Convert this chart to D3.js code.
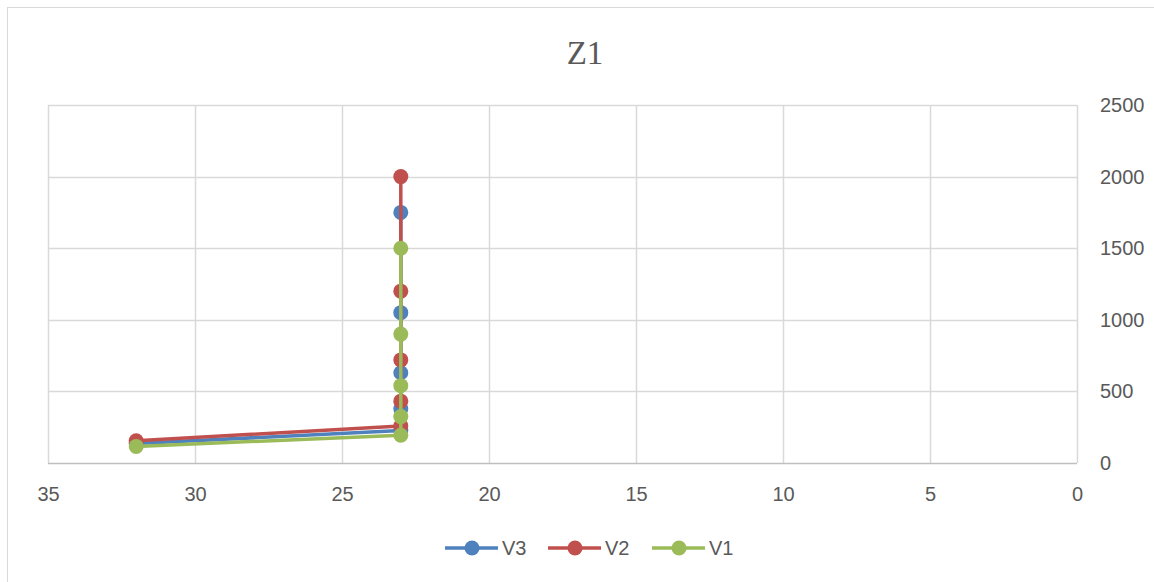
<!DOCTYPE html>
<html><head><meta charset="utf-8">
<script src="https://cdn.jsdelivr.net/npm/d3@7"></script>
<style>body{margin:0;background:#fff}</style>
</head><body>
<svg id="c" width="1154" height="582"></svg>
<script>
const title = "Z1";
const seriesNames = ["V3", "V2", "V1"];
const colors = ["#4f81bd", "#c0504d", "#9bbb59"];
const xV3 = [32, 23, 23, 23, 23, 23];
const yV3 = [136, 227, 378, 630, 1050, 1750];
const xV2 = [32, 23, 23, 23, 23, 23];
const yV2 = [155, 259, 432, 720, 1200, 2000];
const xV1 = [32, 23, 23, 23, 23, 23];
const yV1 = [116, 194, 324, 540, 900, 1500];
const xTicks = [35, 30, 25, 20, 15, 10, 5, 0];
const yTicks = [0, 500, 1000, 1500, 2000, 2500];

const series = [
  {name: seriesNames[0], color: colors[0], pts: xV3.map((x, i) => [x, yV3[i]])},
  {name: seriesNames[1], color: colors[1], pts: xV2.map((x, i) => [x, yV2[i]])},
  {name: seriesNames[2], color: colors[2], pts: xV1.map((x, i) => [x, yV1[i]])}
];

const svg = d3.select("#c");
const font = "'Liberation Sans', Arial, sans-serif";
const textCol = "#595959";

svg.append("rect").attr("x", 7.5).attr("y", 7.5).attr("width", 1160).attr("height", 600)
  .attr("fill", "#fff").attr("stroke", "#d9d9d9").attr("stroke-width", 1);

const L = 48, R = 1077, T = 105, B = 463;
const x = d3.scaleLinear().domain([35, 0]).range([L, R]);
const y = d3.scaleLinear().domain([0, 2500]).range([B, T]);

svg.append("text").attr("x", 585).attr("y", 64).attr("text-anchor", "middle")
  .attr("font-family", "'Liberation Serif', 'Times New Roman', serif").attr("font-size", 33)
  .attr("fill", textCol).text(title);

// grid
const g = svg.append("g");
g.selectAll(".vg").data(xTicks).join("line")
  .attr("x1", d => Math.round(x(d)) + 0.5).attr("x2", d => Math.round(x(d)) + 0.5)
  .attr("y1", T).attr("y2", B).attr("stroke", "#d9d9d9").attr("stroke-width", 1.5);
g.selectAll(".hg").data(yTicks.filter(d => d > 0)).join("line")
  .attr("x1", L).attr("x2", R)
  .attr("y1", d => Math.round(y(d)) + 0.5).attr("y2", d => Math.round(y(d)) + 0.5)
  .attr("stroke", "#d9d9d9").attr("stroke-width", 1.5);
g.append("line").attr("x1", L).attr("x2", R).attr("y1", B + 0.5).attr("y2", B + 0.5)
  .attr("stroke", "#bfbfbf").attr("stroke-width", 1.5);

// axes
const xAxis = d3.axisBottom(x).tickValues(xTicks).tickSize(0).tickPadding(24);
const xa = svg.append("g").attr("transform", `translate(0,${B})`).call(xAxis);
xa.select(".domain").remove();
xa.selectAll("text").attr("font-family", font).attr("font-size", 20).attr("fill", textCol);

const yAxis = d3.axisRight(y).tickValues(yTicks).tickSize(0).tickPadding(23).tickFormat(d3.format("d"));
const ya = svg.append("g").attr("transform", `translate(${R},0)`).call(yAxis);
ya.select(".domain").remove();
ya.selectAll("text").attr("font-family", font).attr("font-size", 20).attr("fill", textCol);

// series
const line = d3.line().x(d => x(d[0])).y(d => y(d[1]));
series.forEach(s => {
  svg.append("path").datum(s.pts).attr("d", line).attr("fill", "none")
    .attr("stroke", s.color).attr("stroke-width", 3.5).attr("stroke-linejoin", "round");
  svg.append("g").selectAll("circle").data(s.pts).join("circle")
    .attr("cx", d => x(d[0])).attr("cy", d => y(d[1])).attr("r", 7.5).attr("fill", s.color);
});

// legend
const legX = [445, 548, 652];
const legY = 548;
series.forEach((s, i) => {
  const lg = svg.append("g").attr("transform", `translate(${legX[i]},${legY})`);
  lg.append("line").attr("x1", 0).attr("x2", 53).attr("y1", 0).attr("y2", 0)
    .attr("stroke", s.color).attr("stroke-width", 3.5);
  lg.append("circle").attr("cx", 27).attr("cy", 0).attr("r", 7.5).attr("fill", s.color);
  lg.append("text").attr("x", 57).attr("y", 0).attr("dy", "0.35em")
    .attr("font-family", font).attr("font-size", 20).attr("fill", textCol).text(s.name);
});
</script>
</body></html>
